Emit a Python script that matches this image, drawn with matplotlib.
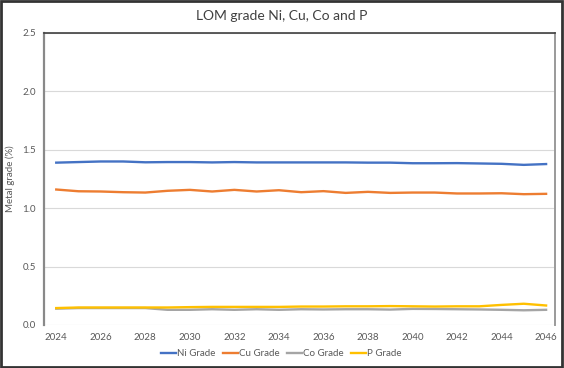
import matplotlib.pyplot as plt
from matplotlib.patches import Rectangle

plt.rcParams['font.family'] = ['Lato', 'DejaVu Sans']

# data
years = list(range(2024, 2047))
ni_grade = [1.39, 1.395, 1.40, 1.40, 1.393, 1.395, 1.395, 1.392, 1.395, 1.392, 1.392, 1.392,
            1.392, 1.392, 1.39, 1.39, 1.385, 1.385, 1.386, 1.383, 1.38, 1.371, 1.378]
cu_grade = [1.16, 1.145, 1.143, 1.137, 1.134, 1.149, 1.157, 1.143, 1.157, 1.143, 1.154, 1.137,
            1.146, 1.131, 1.14, 1.131, 1.134, 1.134, 1.126, 1.126, 1.128, 1.12, 1.123]
co_grade = [0.14, 0.145, 0.145, 0.145, 0.145, 0.13, 0.13, 0.135, 0.13, 0.135, 0.13, 0.135,
            0.133, 0.135, 0.135, 0.132, 0.138, 0.137, 0.135, 0.133, 0.13, 0.126, 0.13]
p_grade = [0.145, 0.15, 0.15, 0.15, 0.15, 0.15, 0.153, 0.155, 0.155, 0.155, 0.155, 0.158,
           0.158, 0.16, 0.16, 0.162, 0.16, 0.158, 0.16, 0.16, 0.172, 0.182, 0.167]

series = [("Ni Grade", ni_grade, "#4472C4"),
          ("Cu Grade", cu_grade, "#ED7D31"),
          ("Co Grade", co_grade, "#A5A5A5"),
          ("P Grade", p_grade, "#FFC000")]

fig = plt.figure(figsize=(5.64, 3.68), dpi=100)
ax = fig.add_axes([44 / 564, 43 / 368, 511 / 564, 292 / 368])

for name, vals, col in series:
    ax.plot(years, vals, color=col, lw=1.7, label=name)

ax.set_ylim(0, 2.5)
ax.set_yticks([0, 0.5, 1.0, 1.5, 2.0, 2.5])
ax.set_yticklabels(["0.0", "0.5", "1.0", "1.5", "2.0", "2.5"])
ax.set_xlim(2023.45, 2046.4)
ax.set_xticks(years[::2])
ax.grid(axis='y', color='#D9D9D9', lw=0.8)
ax.set_axisbelow(True)
ax.tick_params(length=0, labelsize=7, labelcolor='#595959', pad=6)

ax.spines['left'].set_color('#898989')
ax.spines['left'].set_linewidth(1.6)
ax.spines['right'].set_color('#9A9A9A')
ax.spines['right'].set_linewidth(1.4)
ax.spines['top'].set_color('#404040')
ax.spines['top'].set_linewidth(1.2)
ax.spines['bottom'].set_visible(False)

ax.set_ylabel("Metal grade (%)", fontsize=7, color='#595959', labelpad=5)
fig.text(0.5, 1 - 16 / 368, "LOM grade Ni, Cu, Co and P", ha='center', va='center',
         fontsize=10, color='#404040')

fig.legend(loc='center', bbox_to_anchor=(0.499, 1 - 354 / 368), ncol=4, frameon=False,
           fontsize=7, labelcolor='#595959', handlelength=1.5, handletextpad=0.12,
           columnspacing=0.8)

fig.patches.append(Rectangle((0.002, 0.003), 0.995, 0.994, transform=fig.transFigure,
                             fill=False, edgecolor='#333333', lw=2))

fig.savefig("out.png", dpi=100)
